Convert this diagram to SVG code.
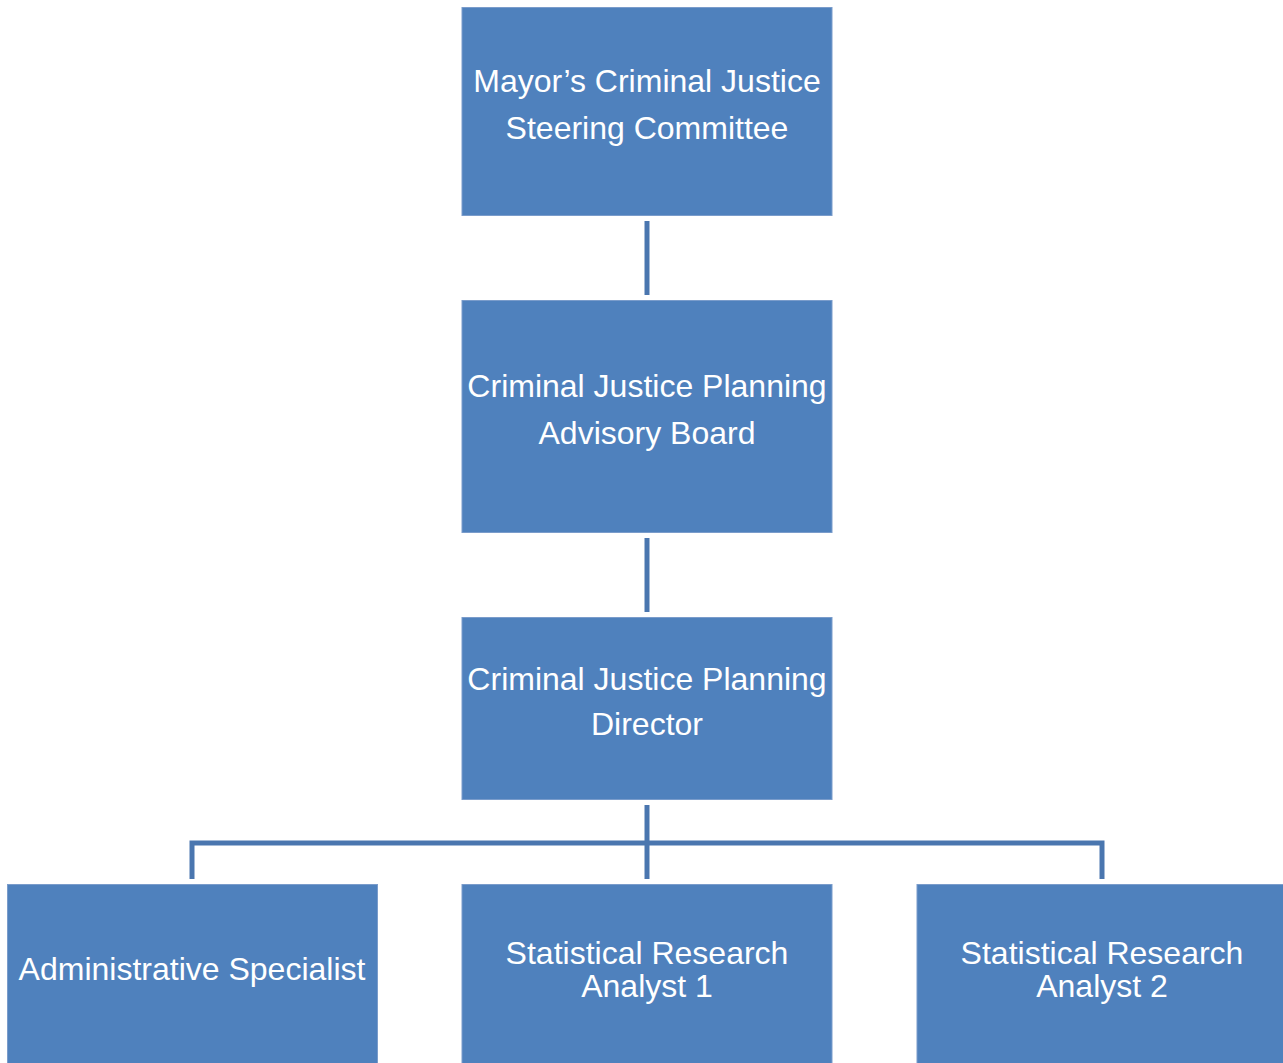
<svg xmlns="http://www.w3.org/2000/svg" width="1283" height="1063" viewBox="0 0 1283 1063">
<style>
.box{fill:#4F81BD;stroke:#7A9CCB;stroke-width:1}
.t{font-family:"Liberation Sans",Arial,sans-serif;font-size:32px;fill:#fff;text-anchor:middle}
.c{stroke:#4A76AF;stroke-width:5;fill:none}
</style>
<rect width="1283" height="1063" fill="#fff"/>
<g id="connectors">
<line class="c" x1="647" y1="221" x2="647" y2="295"/>
<line class="c" x1="647" y1="538" x2="647" y2="612"/>
<line class="c" x1="647" y1="805" x2="647" y2="879"/>
<path class="c" d="M192 879 V843 H1102 V879"/>
</g>
<g id="n1"><rect class="box" x="462" y="7.5" width="370" height="208"/>
<text class="t" x="647" y="92">Mayor’s Criminal Justice</text>
<text class="t" x="647" y="139">Steering Committee</text></g>
<g id="n2"><rect class="box" x="462" y="300.5" width="370" height="232"/>
<text class="t" x="647" y="397">Criminal Justice Planning</text>
<text class="t" x="647" y="444">Advisory Board</text></g>
<g id="n3"><rect class="box" x="462" y="617.5" width="370" height="182"/>
<text class="t" x="647" y="690">Criminal Justice Planning</text>
<text class="t" x="647" y="735">Director</text></g>
<g id="n4"><rect class="box" x="7.5" y="884.5" width="370" height="185"/>
<text class="t" x="192" y="980">Administrative Specialist</text></g>
<g id="n5"><rect class="box" x="462" y="884.5" width="370" height="185"/>
<text class="t" x="647" y="964">Statistical Research</text>
<text class="t" x="647" y="997">Analyst 1</text></g>
<g id="n6"><rect class="box" x="917" y="884.5" width="370" height="185"/>
<text class="t" x="1102" y="964">Statistical Research</text>
<text class="t" x="1102" y="997">Analyst 2</text></g>
</svg>
